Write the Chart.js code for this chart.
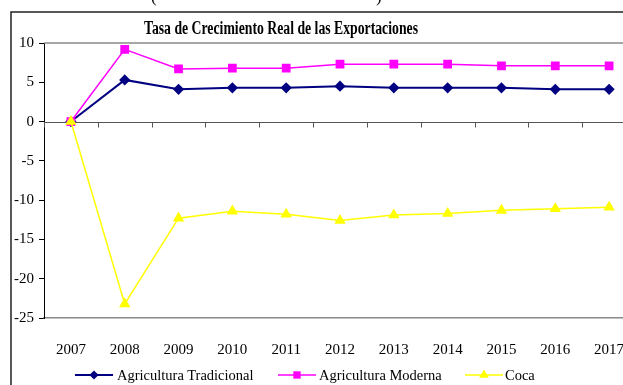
<!DOCTYPE html>
<html>
<head>
<meta charset="utf-8">
<script src="https://cdn.jsdelivr.net/npm/chart.js@4"></script>
<style>
  html, body { margin: 0; padding: 0; width: 623px; height: 385px; overflow: hidden; background: #fff; }
  #wrap { position: relative; width: 623px; height: 385px; overflow: hidden; }
  #chart { position: absolute; left: 0; top: 0; }
  .serif { font-family: "Liberation Serif", "Times New Roman", serif; color: #000; }
  #title { position: absolute; left: 144px; top: 18px; font-size: 18px; font-weight: bold; white-space: nowrap; transform-origin: 0 0; }
  .paren { position: absolute; top: -13px; font-size: 17px; }
  .leg { position: absolute; top: 366px; font-size: 14.5px; white-space: nowrap; line-height: 18px; }
  .icon { position: absolute; top: 368px; }
</style>
</head>
<body>
<div id="wrap">
  <canvas id="chart" width="700" height="385"></canvas>
  <span class="serif paren" style="left:151px">(</span>
  <span class="serif paren" style="left:376px">)</span>
  <div id="title" class="serif">Tasa de Crecimiento Real de las Exportaciones</div>
  <canvas class="icon" id="ic0" width="38" height="14" style="left:75px"></canvas>
  <div class="serif leg" style="left:117px">Agricultura Tradicional</div>
  <canvas class="icon" id="ic1" width="38" height="14" style="left:278px"></canvas>
  <div class="serif leg" style="left:319px">Agricultura Moderna</div>
  <canvas class="icon" id="ic2" width="38" height="14" style="left:465px"></canvas>
  <div class="serif leg" style="left:505px">Coca</div>
</div>
<script>
// ── Data ──
const years       = ["2007", "2008", "2009", "2010", "2011", "2012", "2013", "2014", "2015", "2016", "2017"];
const tradicional = [0, 5.3, 4.1, 4.3, 4.3, 4.5, 4.3, 4.3, 4.3, 4.1, 4.1];
const moderna     = [0, 9.2, 6.7, 6.8, 6.8, 7.3, 7.3, 7.3, 7.1, 7.1, 7.1];
const coca        = [0, -23.2, -12.3, -11.4, -11.8, -12.6, -11.9, -11.7, -11.3, -11.1, -10.9];

const seriesNames = ["Agricultura Tradicional", "Agricultura Moderna", "Coca"];

// ── Styles ──
const SERIES = [
  { color: "#000080", style: "rectRot",  radius: 5.6, width: 2   },
  { color: "#ff00ff", style: "rect",     radius: 6.2, width: 1.5 },
  { color: "#ffff00", style: "triangle", radius: 6.6, width: 1.5 },
];
const SERIF = "'Liberation Serif', 'Times New Roman', serif";

// squeeze the title to the frame's narrow bold face
const titleEl = document.getElementById("title");
titleEl.style.transform = `scaleX(${274 / titleEl.offsetWidth})`;

// ── Frame, zero axis and category ticks ──
const frameAndAxis = {
  id: "frameAndAxis",
  beforeDraw(chart) {
    const { ctx } = chart;
    ctx.save();
    ctx.fillStyle = "#fff";
    ctx.fillRect(0, 0, chart.width, chart.height);
    ctx.strokeStyle = "#222";
    ctx.lineWidth = 1.5;
    ctx.beginPath();
    ctx.moveTo(11, chart.height);
    ctx.lineTo(11, 12);
    ctx.lineTo(chart.width, 12);
    ctx.stroke();
    ctx.restore();
  },
  beforeDatasetsDraw(chart) {
    const { ctx, chartArea: a, scales: { x, y } } = chart;
    ctx.save();
    // top border of the plot area
    ctx.strokeStyle = "#888";
    ctx.lineWidth = 1.5;
    ctx.beginPath();
    ctx.moveTo(a.left, a.top);
    ctx.lineTo(a.right, a.top);
    ctx.stroke();
    // horizontal axis crossing at 0
    const y0 = Math.round(y.getPixelForValue(0)) + 0.5;
    ctx.strokeStyle = "#555";
    ctx.lineWidth = 1;
    ctx.beginPath();
    ctx.moveTo(a.left, y0);
    ctx.lineTo(a.right, y0);
    const step = x.getPixelForTick(1) - x.getPixelForTick(0);
    for (let i = 0; i <= years.length; i++) {
      const px = Math.round(x.getPixelForTick(0) - step / 2 + i * step) + 0.5;
      ctx.moveTo(px, y0);
      ctx.lineTo(px, y0 + 5);
    }
    ctx.stroke();
    ctx.restore();
  }
};

const chart = new Chart(document.getElementById("chart"), {
  type: "line",
  data: {
    labels: years,
    datasets: [tradicional, moderna, coca].map((vals, i) => ({
      label: seriesNames[i],
      data: vals,
      borderColor: SERIES[i].color,
      backgroundColor: SERIES[i].color,
      borderWidth: SERIES[i].width,
      pointStyle: SERIES[i].style,
      pointRadius: SERIES[i].radius,
      pointBorderWidth: 0,
      tension: 0,
      order: 3 - i,
    }))
  },
  options: {
    responsive: false,
    animation: false,
    devicePixelRatio: 1,
    layout: { padding: { left: 0, top: 43, right: 64, bottom: 27 } },
    plugins: { legend: { display: false }, tooltip: { enabled: false }, title: { display: false } },
    scales: {
      x: {
        offset: true,
        grid: { display: false },
        border: { display: true, color: "#888", width: 1.5 },
        ticks: { color: "#000", font: { family: SERIF, size: 15 }, padding: 15, maxRotation: 0, autoSkip: false },
        afterFit: s => { s.height = 40; },
      },
      y: {
        min: -25,
        max: 10,
        ticks: { stepSize: 5, color: "#000", font: { family: SERIF, size: 15 }, padding: 5 },
        grid: { display: true, drawOnChartArea: false, drawTicks: true, tickLength: 5, color: "#000" },
        border: { display: true, color: "#000", width: 1 },
        afterFit: s => { s.width = 44; },
      }
    }
  },
  plugins: [frameAndAxis]
});

// ── Legend icons: line with the series marker ──
SERIES.forEach((s, i) => {
  const c = document.getElementById("ic" + i);
  const ctx = c.getContext("2d");
  ctx.strokeStyle = s.color;
  ctx.lineWidth = s.width;
  ctx.beginPath();
  ctx.moveTo(0, 7);
  ctx.lineTo(c.width, 7);
  ctx.stroke();
  ctx.fillStyle = s.color;
  Chart.helpers.drawPoint(ctx, { pointStyle: s.style, radius: s.radius - 1, borderWidth: 0 }, c.width / 2, 7);
});
</script>
</body>
</html>
